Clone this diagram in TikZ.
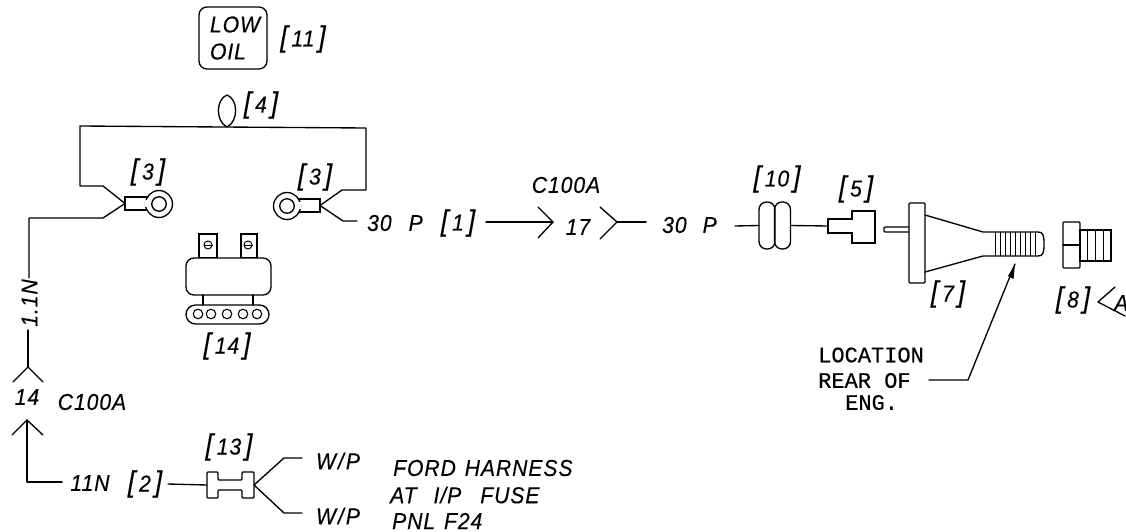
\documentclass[tikz,border=0pt]{standalone}
\usepackage{fontspec}
\setmainfont{Liberation Sans}[LetterSpace=4,WordSpace=1.3,ItalicFeatures={FakeBold=0.25,FakeStretch=0.92}]
\newfontfamily\cadmono{Liberation Mono}[FakeBold=0.5]
\usetikzlibrary{calc}
\newcommand{\bk}[1]{{\fontsize{29}{29}\selectfont[}\,#1\,{\fontsize{29}{29}\selectfont]}}
\tikzset{
  lbl/.style={inner sep=0pt,font=\fontsize{23}{23}\selectfont\itshape},
  cadt/.style={inner sep=0pt,font=\fontsize{22}{22}\selectfont\cadmono,anchor=west},
  wire/.style={draw=black,line width=1.35pt,line join=round,line cap=round},
  part/.style={draw=black,line width=1.35pt,inner sep=0pt,outer sep=0pt,rectangle},
  ringo/.style={draw=black,line width=1.35pt,circle,inner sep=0pt,outer sep=0pt,minimum size=27pt},
  ringi/.style={draw=black,line width=1.35pt,circle,inner sep=0pt,outer sep=0pt,minimum size=14.5pt},
  hole/.style={draw=black,line width=1.1pt,circle,inner sep=0pt,outer sep=0pt,minimum size=9.5pt},
}
\begin{document}
\begin{tikzpicture}[x=1pt,y=-1pt]
\useasboundingbox (0,0) rectangle (1126,532);
% warning lamp
\node[part,rounded corners=8pt,minimum width=68pt,minimum height=62pt,text width=46pt,align=left,font=\fontsize{23}{27}\selectfont\itshape] (lamp) at (233,38) {LOW\\OIL};
\node[lbl] (l11) at (303,39) {\bk{11}};
% splice loop
\coordinate (wl) at (80,126);
\coordinate (wr) at (366,128);
\coordinate (loopb) at (227,127);
\coordinate (loopt) at (227,95);
\draw[wire] (loopb) .. controls (215,121) and (216,99) .. (loopt) .. controls (238,99) and (239,121) .. (loopb);
\node[lbl] (l4) at (261,105) {\bk{4}};
% left terminal
\node[part,minimum width=22pt,minimum height=13pt] (lugL) at (136,203.5) {};
\node[ringo,fill=white] (ringLo) at (159,204) {};
\node[ringi] (ringLi) at (159,204) {};
\draw[white,line width=2pt] (145.8,200) -- (145.8,207);
\node[lbl] (l3a) at (148,172) {\bk{3}};
% right terminal
\node[part,minimum width=22pt,minimum height=13pt] (lugR) at (309,205.5) {};
\node[ringo,fill=white] (ringRo) at (287,206) {};
\node[ringi] (ringRi) at (287,206) {};
\draw[white,line width=2pt] (300.2,202) -- (300.2,209);
\node[lbl] (l3b) at (315,177) {\bk{3}};
% harness
\coordinate (a1) at (80,186);
\coordinate (a2) at (103,186);
\coordinate (b1) at (103,218);
\coordinate (b2) at (29,218);
\coordinate (b3) at (29,278);
\draw[wire] (lugL.west) -- (a2) -- (a1) -- (wl) -- (wr) -- (366,190) -- (342,190) -- (lugR.east);
\draw[wire] (lugL.west) -- (b1) -- (b2) -- (b3);
\draw[wire] (lugR.east) -- (343,221) -- (357,221);
\node[lbl,rotate=90] (l11n) at (29.5,303) {1.1N};
% C100A pin 14
\coordinate (yb) at (28,367);
\draw[wire] (28,330) -- (yb);
\draw[wire] (13,382) -- (yb) -- (43,382);
\node[lbl] (l14) at (27,397) {14};
\node[lbl] (lc1) at (92,402) {C100A};
\coordinate (at) at (27,420);
\draw[wire] (12,435) -- (at) -- (43,435);
\coordinate (ac) at (27,482);
\coordinate (ae) at (62,482);
\draw[wire] (at) -- (ac) -- (ae);
\node[lbl] (l11b) at (90,483) {11N};
\node[lbl] (l2) at (145,484) {\bk{2}};
% fuse
\coordinate (fw) at (207,485);
\coordinate (fe) at (254,485);
\draw[wire,rounded corners=1pt] (fw) |- (218,472) |- (242,480) |- (254,472) -- (fe) |- (242,498) |- (218,490) |- (207,498) -- cycle;
\draw[wire] (168,484) -- (fw);
\node[lbl] (l13) at (229,447) {\bk{13}};
\draw[wire] (fe) -- (284,458) -- (302,458);
\draw[wire] (fe) -- (284,513) -- (302,513);
\node[lbl] (wp1) at (338,461) {W\kern2pt/\kern2pt P};
\node[lbl] (wp2) at (338,516) {W\kern2pt/\kern2pt P};
\node[lbl,anchor=west] (ford) at (393,468) {FORD HARNESS};
\node[lbl,anchor=west] (at1) at (390,495) {AT\hspace{17pt}I/P\hspace{19pt}FUSE};
\node[lbl,anchor=west] (pnl) at (392,521) {PNL F24};
% relay
\node[part,minimum width=18pt,minimum height=24pt] (tabA) at (208,246) {};
\node[part,minimum width=16pt,minimum height=24pt] (tabB) at (249,246) {};
\foreach \cx/\nm in {208/sa,248/sb}{
  \node[draw=black,line width=1pt,circle,minimum size=8pt,inner sep=0pt] (\nm) at (\cx,245) {};
  \draw[line width=1pt] (\nm.west) -- (\nm.east);
}
\node[part,fill=white,rounded corners=8pt,minimum width=85pt,minimum height=37pt] (relay) at (228.5,276.5) {};
\node[part,rounded corners=9.5pt,minimum width=83pt,minimum height=19pt] (base) at (227.5,314.5) {};
\draw[wire] (203,295) -- (203,305);
\draw[wire] (253,295) -- (253,305);
\foreach \cx/\nm in {198/h1,211/h2,227/h3,243/h4,257/h5}{
  \node[hole] (\nm) at (\cx,314) {};
}
\node[lbl] (l14b) at (227,346) {\bk{14}};
% mid run
\node[lbl,anchor=west] (t30a) at (367,223) {30\hspace{17pt}P};
\node[lbl] (l1) at (458,223) {\bk{1}};
\coordinate (arS) at (486,222);
\coordinate (arT) at (553,222);
\draw[wire] (arS) -- (arT);
\draw[wire] (538,207) -- (arT) -- (538,238);
\node[lbl] (lc2) at (566,185) {C100A};
\node[lbl] (l17) at (578,227) {17};
\coordinate (yT) at (617,222);
\draw[wire] (600,207) -- (yT) -- (600,239);
\draw[wire] (yT) -- (646,222);
\node[lbl,anchor=west] (t30b) at (662,225) {30\hspace{16pt}P};
% capsule 10
\node[part,rounded corners=7.5pt,minimum width=16pt,minimum height=47pt] (c1) at (767,225.5) {};
\node[part,rounded corners=7.5pt,minimum width=16pt,minimum height=47pt] (c2) at (782.5,225.5) {};
\draw[wire] (735,226) -- (c1.west);
\node[lbl] (l10) at (777,179) {\bk{10}};
% part 5
\node[part,minimum width=24pt,minimum height=14pt] (p5a) at (840,226) {};
\node[part,minimum width=23pt,minimum height=32pt] (p5b) at (863.5,227) {};
\draw[white,line width=2pt] (852,220) -- (852,232);
\draw[wire] (c2.east) -- (p5a.west);
\node[lbl] (l5) at (856,189) {\bk{5}};
% part 7
\node[part,rounded corners=1pt,minimum width=26pt,minimum height=5pt] (pin) at (897,229.5) {};
\node[part,fill=white,rounded corners=1pt,minimum width=16pt,minimum height=80pt] (fl7) at (917,243) {};
\coordinate (s1) at (983,232);
\coordinate (s2) at (983,256);
\draw[wire] (925,215) -- (s1) -- (1038,232) .. controls (1043,232) and (1044,235) .. (1044,244) .. controls (1044,253) and (1043,256) .. (1038,256) -- (s2) -- (925,272);
\foreach \tx in {995,1000,1005,1010,1015,1020,1025,1030,1035}{
  \draw[line width=1pt] (\tx,232) -- (\tx,256);
}
\node[lbl] (l7) at (948,294) {\bk{7}};
% part 8
\node[part,fill=white,rounded corners=1pt,minimum width=17pt,minimum height=46pt] (hex) at (1071.5,245) {};
\draw[wire] (hex.west) -- (hex.east);
\node[part,minimum width=31pt,minimum height=31pt] (thr) at (1095.5,245.5) {};
\foreach \tx in {1087,1095,1103}{
  \draw[line width=1pt] (\tx,230) -- (\tx,261);
}
\node[lbl] (l8) at (1073,300) {\bk{8}};
\draw[wire] (1115,287) -- (1098,302) -- (1125,316);
\node[lbl,anchor=west] (lA) at (1114,303) {A};
% location note
\node[cadt] (n1) at (818,355) {LOCATION};
\node[cadt] (n2) at (818,380.5) {REAR OF};
\node[cadt] (n3) at (845,402.5) {ENG.};
\coordinate (ls) at (929,380);
\coordinate (lk) at (968,380);
\coordinate (lt) at (1015,264);
\draw[wire] (ls) -- (lk) -- (lt);
\fill ($(lt)+(0,0)$) -- ++(-1.5,15) -- ++(-5.5,-3) -- cycle;
\end{tikzpicture}
\end{document}
